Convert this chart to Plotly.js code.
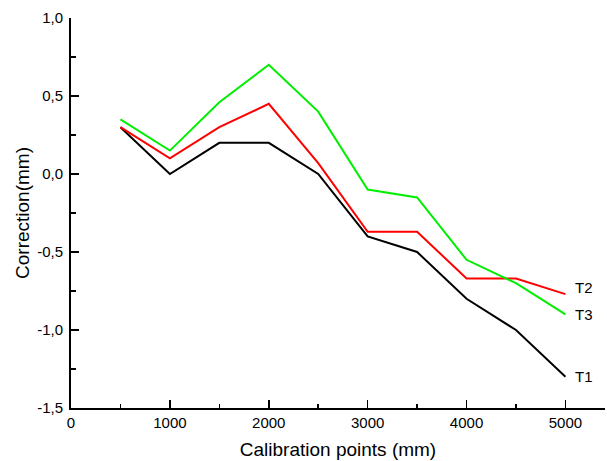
<!DOCTYPE html>
<html><head><meta charset="utf-8">
<script src="https://cdn.plot.ly/plotly-3.0.1.min.js"></script>
<style>body{margin:0;background:#fff}#c{width:607px;height:461px}</style>
</head><body><div id="c"></div>
<script>
const xPoints = [500, 1000, 1500, 2000, 2500, 3000, 3500, 4000, 4500, 5000];
const T1 = [0.3, 0.0, 0.2, 0.2, 0.0, -0.4, -0.5, -0.8, -1.0, -1.3];
const T2 = [0.3, 0.1, 0.3, 0.45, 0.07, -0.37, -0.37, -0.67, -0.67, -0.77];
const T3 = [0.35, 0.15, 0.46, 0.7, 0.4, -0.1, -0.15, -0.55, -0.7, -0.9];
const seriesNames = ['T1', 'T2', 'T3'];
const yTickVals = [-1.5, -1.0, -0.5, 0.0, 0.5, 1.0];
const yTickText = ['-1,5', '-1,0', '-0,5', '0,0', '0,5', '1,0'];
const xTickVals = [0, 1000, 2000, 3000, 4000, 5000];
const xTickText = ['0', '1000', '2000', '3000', '4000', '5000'];

const fam = 'Liberation Sans, Arial, sans-serif';
const series = [T1, T2, T3];
const colors = ['#000000', '#ff0000', '#00ee00'];
const traces = series.map((s, i) => ({
  x: xPoints, y: s, type: 'scatter', mode: 'lines', name: seriesNames[i],
  line: {color: colors[i], width: 2}
}));
const annotations = series.map((s, i) => ({
  x: xPoints[xPoints.length - 1], y: s[s.length - 1] + (i === 1 ? 0.04 : 0),
  xref: 'x', yref: 'y', text: seriesNames[i], showarrow: false,
  xanchor: 'left', xshift: 8, font: {family: fam, size: 15, color: '#000'}
}));
const layout = {
  width: 607, height: 461,
  margin: {l: 71, r: 2, t: 18, b: 53},
  paper_bgcolor: '#fff', plot_bgcolor: '#fff',
  showlegend: false,
  font: {family: fam, size: 14, color: '#000'},
  xaxis: {
    range: [0, 5400], tickvals: xTickVals, ticktext: xTickText,
    ticks: 'inside', ticklen: 8, tickwidth: 1.5, tickcolor: '#000',
    minor: {ticks: 'inside', ticklen: 4, tickvals: [500,1500,2500,3500,4500], tickcolor: '#000', tickwidth: 1.5},
    showline: true, linecolor: '#000', linewidth: 2, showgrid: false, zeroline: false,
    tickfont: {family: fam, size: 15},
    title: {text: 'Calibration points (mm)', font: {size: 19}, standoff: 13}
  },
  yaxis: {
    range: [-1.5, 1.0], tickvals: yTickVals, ticktext: yTickText,
    ticks: 'inside', ticklen: 8, tickwidth: 1.5, tickcolor: '#000',
    minor: {ticks: 'inside', ticklen: 5, tickvals: [-1.25, -0.75, -0.25, 0.25, 0.75], tickcolor: '#000', tickwidth: 1.5},
    showline: true, linecolor: '#000', linewidth: 2, showgrid: false, zeroline: false,
    tickfont: {family: fam, size: 15}, ticklabelstandoff: 3,
    title: {text: 'Correction(mm)', font: {size: 19}, standoff: 2}
  },
  annotations: annotations
};
Plotly.newPlot('c', traces, layout, {staticPlot: true, displayModeBar: false});
</script></body></html>
